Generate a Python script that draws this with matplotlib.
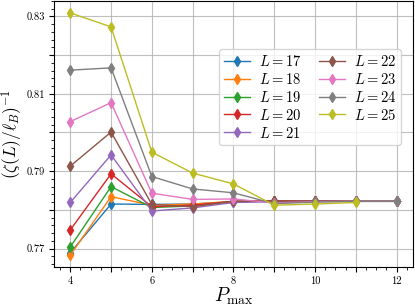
import numpy as np
import matplotlib
matplotlib.use('Agg')
import matplotlib.pyplot as plt
from matplotlib.ticker import MultipleLocator, FuncFormatter

plt.rcParams['font.family'] = 'serif'
plt.rcParams['font.serif'] = ['cmr10', 'DejaVu Serif']
plt.rcParams['mathtext.fontset'] = 'cm'
plt.rcParams['axes.formatter.use_mathtext'] = True

# P_max values and (zeta(L)/l_B)^-1 for each system size L
p_max = [4, 5, 6, 7, 8, 9, 10, 11, 12]
sizes = [17, 18, 19, 20, 21, 22, 23, 24, 25]
values = {
    17: [0.7689, 0.7815, 0.7814, 0.7815, 0.7821, 0.7822, 0.7822, 0.7822, 0.7822],
    18: [0.7683, 0.7834, 0.7812, 0.7815, 0.7822, 0.7822, 0.7822, 0.7822, 0.7822],
    19: [0.7704, 0.7860, 0.7806, 0.7810, 0.7822, 0.7823, 0.7823, 0.7822, 0.7822],
    20: [0.7748, 0.7893, 0.7808, 0.7812, 0.7822, 0.7823, 0.7823, 0.7822, 0.7822],
    21: [0.7819, 0.7942, 0.7797, 0.7805, 0.7819, 0.7821, 0.7822, 0.7822, 0.7822],
    22: [0.7913, 0.8001, 0.7814, 0.7808, 0.7822, 0.7822, 0.7822, 0.7822, 0.7822],
    23: [0.8028, 0.8077, 0.7843, 0.7827, 0.7828, 0.7818, 0.7821, 0.7822, 0.7822],
    24: [0.8161, 0.8167, 0.7886, 0.7854, 0.7844, 0.7816, 0.7820, 0.7822, 0.7822],
    25: [0.8309, 0.8273, 0.7949, 0.7895, 0.7867, 0.7812, 0.7815, 0.7819],
}

fig, ax = plt.subplots(figsize=(4.15, 3.07), dpi=100)
fig.subplots_adjust(left=0.13, right=0.995, top=0.997, bottom=0.13)

for L in sizes:
    y = values[L]
    ax.plot(p_max[:len(y)], y, marker='d', markersize=5.5, linewidth=1,
            label=f'$L = {L}$')

ax.set_xlim(3.6, 12.4)
ax.set_ylim(0.7652, 0.834)

ax.xaxis.set_major_locator(MultipleLocator(1))
ax.xaxis.set_minor_locator(MultipleLocator(0.25))
ax.xaxis.set_major_formatter(FuncFormatter(lambda v, p: f'{int(round(v))}' if round(v) % 2 == 0 else ''))
ax.yaxis.set_major_locator(MultipleLocator(0.01))
ax.yaxis.set_minor_locator(MultipleLocator(0.002))
ax.yaxis.set_major_formatter(FuncFormatter(lambda v, p: f'{v:.2f}' if round(v * 100) % 2 == 1 else ''))
ax.tick_params(axis='both', which='major', labelsize=7.5, length=3.5, width=0.8, pad=3)
ax.tick_params(axis='both', which='minor', length=2, width=0.6)

ax.grid(True, which='major', color='#b0b0b0', linewidth=0.8, alpha=0.8)

ax.set_xlabel(r'$P_{\max}$', fontsize=14, labelpad=0)
ax.set_ylabel(r'$(\zeta(L)/\ell_B)^{-1}$', fontsize=12.5, labelpad=1)

ax.legend(ncol=2, loc='upper left', bbox_to_anchor=(0.44, 0.845), fontsize=10.5,
          handlelength=1.8, labelspacing=0.2, columnspacing=1.2,
          borderpad=0.3, handletextpad=0.6)

fig.savefig('out.png', dpi=100)
